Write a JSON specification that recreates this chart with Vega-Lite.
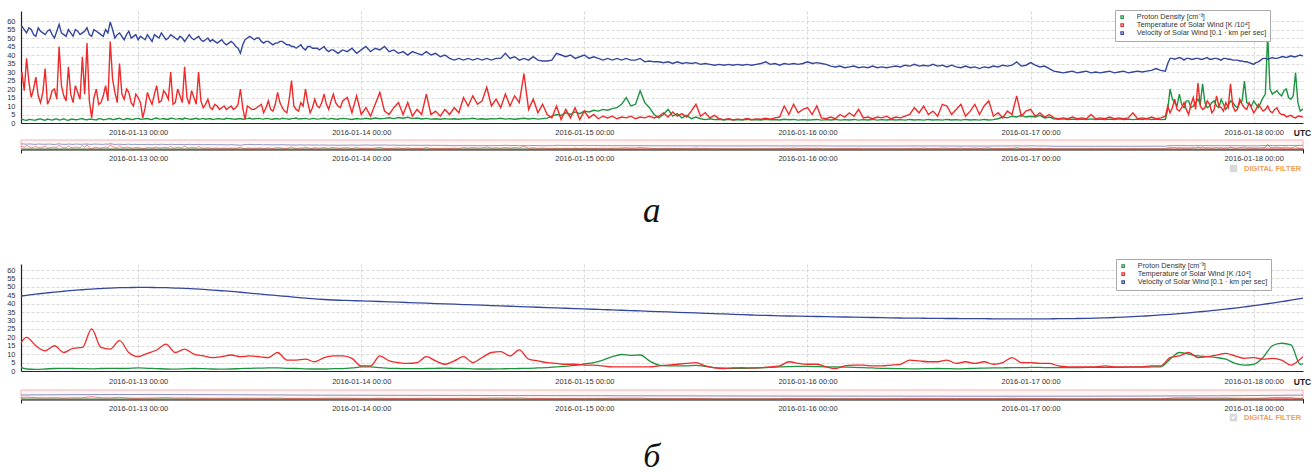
{
"$schema":"https://vega.github.io/schema/vega-lite/v6.json",
"padding":{"left":6,"top":9,"right":0,"bottom":0},
"background":"white",
"config":{"font":"Liberation Sans","view":{"stroke":null},
"axis":{"ticks":false,"tickSize":0,"domainColor":"#222","domainWidth":1.2,"gridColor":"#cfcfcf","gridDash":[3,2],"gridWidth":0.8,"labelFont":"Liberation Sans","labelFontSize":7.5,"labelColor":"#333"}},
"datasets":{
"a":[
{"h":11.0,"n":2,"t":25,"v":56},{"h":11.5,"n":2.2,"t":30,"v":57},{"h":12.0,"n":1.5,"t":38,"v":53},{"h":12.5,"n":2,"t":15,"v":55},{"h":13.0,"n":1.8,"t":27,"v":51},{"h":13.5,"n":2.4,"t":12,"v":54},{"h":14.0,"n":1.6,"t":32,"v":52},{"h":14.5,"n":2,"t":14,"v":55},{"h":15.0,"n":2.2,"t":20,"v":50},{"h":15.5,"n":1.8,"t":45,"v":58},{"h":16.0,"n":2.5,"t":16,"v":52},{"h":16.5,"n":1.6,"t":33,"v":55},{"h":17.0,"n":2.3,"t":12,"v":51},{"h":17.5,"n":2,"t":18,"v":54},{"h":18.0,"n":2.6,"t":39,"v":53},{"h":18.5,"n":1.9,"t":47,"v":56},{"h":19.0,"n":2.2,"t":3,"v":51},{"h":19.5,"n":1.8,"t":20,"v":54},{"h":20.0,"n":2.4,"t":12,"v":52},{"h":20.5,"n":2.1,"t":22,"v":55},{"h":21.0,"n":2.6,"t":48,"v":59.5},{"h":21.5,"n":2.2,"t":18,"v":50},{"h":22.0,"n":2.8,"t":35,"v":53},{"h":22.5,"n":2,"t":14,"v":49},{"h":23.0,"n":2.5,"t":18,"v":54},{"h":23.5,"n":2.2,"t":10,"v":51},{"h":24.0,"n":2.7,"t":15,"v":49},
{"h":24.5,"n":2.3,"t":3,"v":50},{"h":25.0,"n":2.6,"t":18,"v":52},{"h":25.5,"n":2.1,"t":11,"v":48},{"h":26.0,"n":2.9,"t":22,"v":51},{"h":26.5,"n":2.4,"t":13,"v":53},{"h":27.0,"n":2.2,"t":17,"v":49},{"h":27.5,"n":2.8,"t":30,"v":52},{"h":28.0,"n":2.3,"t":12,"v":50},{"h":28.5,"n":2.6,"t":16,"v":51},{"h":29.0,"n":2.9,"t":33,"v":48},{"h":29.5,"n":2.3,"t":11,"v":52},{"h":30.0,"n":2.5,"t":15,"v":49},{"h":30.5,"n":2.2,"t":30,"v":51},{"h":31.0,"n":2.7,"t":9,"v":48},{"h":31.5,"n":2.4,"t":14,"v":50},{"h":32.0,"n":2.1,"t":8,"v":49},{"h":32.5,"n":2.6,"t":10,"v":47},{"h":33.0,"n":2.3,"t":9,"v":49},{"h":33.5,"n":2.8,"t":8,"v":46},{"h":34.0,"n":2.5,"t":10,"v":48},{"h":34.5,"n":2.2,"t":9,"v":45},{"h":35.0,"n":2.6,"t":20,"v":41},{"h":35.5,"n":2.4,"t":2,"v":49},{"h":36.0,"n":2.9,"t":9,"v":51},{"h":36.5,"n":2.5,"t":8,"v":49},{"h":37.0,"n":2.7,"t":10,"v":50},{"h":37.5,"n":2.3,"t":6,"v":47},{"h":38.0,"n":2.6,"t":13,"v":48},{"h":38.5,"n":2.2,"t":7,"v":46},{"h":39.0,"n":2.5,"t":18,"v":47},{"h":39.5,"n":2.8,"t":9,"v":48},{"h":40.0,"n":2.4,"t":6,"v":46},{"h":40.5,"n":2.6,"t":25,"v":45},{"h":41.0,"n":2.9,"t":8,"v":44},{"h":41.5,"n":2.5,"t":12,"v":46},{"h":42.0,"n":2.7,"t":20,"v":43},{"h":42.5,"n":2.3,"t":6,"v":45},{"h":43.0,"n":2.6,"t":14,"v":44},{"h":43.5,"n":2.4,"t":9,"v":43},{"h":44.0,"n":2.8,"t":17,"v":45},{"h":44.5,"n":2.3,"t":8,"v":42},
{"h":45.0,"n":2.5,"t":17,"v":43},{"h":45.5,"n":2.2,"t":10,"v":41},{"h":46.0,"n":2.7,"t":13,"v":43},{"h":46.5,"n":2.4,"t":15,"v":42},{"h":47.0,"n":2.1,"t":6,"v":44},{"h":47.5,"n":2.6,"t":16,"v":41},{"h":48.0,"n":2.3,"t":5,"v":43},{"h":48.5,"n":2.8,"t":9,"v":45},{"h":49.0,"n":2.4,"t":4,"v":42},{"h":49.5,"n":2.9,"t":11,"v":44},{"h":50.0,"n":2.5,"t":18,"v":43},{"h":50.5,"n":2.7,"t":7,"v":45},{"h":51.0,"n":3.1,"t":5,"v":42},{"h":51.5,"n":2.6,"t":9,"v":43},{"h":52.0,"n":3.2,"t":12,"v":41},{"h":52.5,"n":2.8,"t":5,"v":42},{"h":53.0,"n":3.4,"t":12,"v":40},{"h":53.5,"n":2.6,"t":4,"v":42},{"h":54.0,"n":2.9,"t":8,"v":41},{"h":54.5,"n":2.4,"t":5,"v":40},{"h":55.0,"n":2.7,"t":17,"v":42},{"h":55.5,"n":2.3,"t":5,"v":40},{"h":56.0,"n":2.5,"t":7,"v":41},{"h":56.5,"n":2.2,"t":4,"v":39},{"h":57.0,"n":2.6,"t":8,"v":40},{"h":57.5,"n":2.3,"t":5,"v":38},{"h":58.0,"n":2.5,"t":9,"v":37},{"h":58.5,"n":2.2,"t":6,"v":38},{"h":59.0,"n":2.6,"t":15,"v":37},{"h":59.5,"n":2.4,"t":10,"v":38},{"h":60.0,"n":2.8,"t":16,"v":37},{"h":60.5,"n":2.3,"t":11,"v":38},{"h":61.0,"n":2.5,"t":13,"v":37},{"h":61.5,"n":2.2,"t":21,"v":38},{"h":62.0,"n":2.6,"t":10,"v":37},{"h":62.5,"n":2.4,"t":14,"v":38},{"h":63.0,"n":2.8,"t":9,"v":38},{"h":63.5,"n":2.3,"t":17,"v":41},{"h":64.0,"n":2.6,"t":10,"v":38},{"h":64.5,"n":2.2,"t":16,"v":39},{"h":65.0,"n":2.5,"t":12,"v":37},{"h":65.5,"n":2.8,"t":29,"v":38},{"h":66.0,"n":2.4,"t":8,"v":37},{"h":66.5,"n":2.7,"t":14,"v":39},{"h":67.0,"n":2.3,"t":6,"v":37},{"h":67.5,"n":2.6,"t":11,"v":36.5},{"h":68.0,"n":2.9,"t":5,"v":36.5},
{"h":68.5,"n":4,"t":3,"v":37},{"h":69.0,"n":5,"t":10,"v":41},{"h":69.5,"n":4.5,"t":2,"v":40},{"h":70.0,"n":6,"t":8,"v":39},{"h":70.5,"n":5,"t":3,"v":40},{"h":71.0,"n":6.5,"t":9,"v":38},{"h":71.5,"n":5.5,"t":2,"v":39},{"h":72.0,"n":7,"t":7,"v":40},{"h":72.5,"n":6.5,"t":3,"v":38},{"h":73.0,"n":7.5,"t":5,"v":39},{"h":73.5,"n":7,"t":2.5,"v":38},{"h":74.0,"n":8,"t":4,"v":37},{"h":74.5,"n":7.5,"t":3,"v":38},{"h":75.0,"n":8.5,"t":4,"v":37},{"h":75.5,"n":9,"t":2.5,"v":38},{"h":76.0,"n":11,"t":3.5,"v":37},{"h":76.5,"n":15,"t":3,"v":38},{"h":77.0,"n":10,"t":4,"v":37},{"h":77.5,"n":11,"t":2.5,"v":37},{"h":78.0,"n":19,"t":3.5,"v":38},{"h":78.5,"n":12,"t":3,"v":36},{"h":79.0,"n":9,"t":4,"v":36.5},{"h":79.5,"n":5,"t":3,"v":36},{"h":80.0,"n":3,"t":4,"v":36},
{"h":80.5,"n":5,"t":6,"v":35.5},{"h":81.0,"n":8,"t":3.5,"v":36},{"h":81.5,"n":4,"t":6.5,"v":35},{"h":82.0,"n":5.5,"t":4,"v":36},{"h":82.5,"n":3,"t":5.5,"v":35},{"h":83.0,"n":4.5,"t":3.5,"v":35.5},{"h":83.5,"n":2.5,"t":7,"v":35},{"h":84.0,"n":3.5,"t":11,"v":35.5},{"h":84.5,"n":2.5,"t":4,"v":34.5},{"h":85.0,"n":2,"t":6,"v":35},{"h":85.5,"n":2.5,"t":3,"v":34.5},{"h":86.0,"n":2,"t":4.5,"v":34},{"h":86.5,"n":2.2,"t":2.5,"v":34.5},{"h":87.0,"n":1.8,"t":2,"v":34},{"h":87.5,"n":2.2,"t":2.5,"v":34.5},{"h":88.0,"n":1.9,"t":1.8,"v":34},{"h":88.5,"n":2.1,"t":2.3,"v":34.5},{"h":89.0,"n":1.8,"t":2,"v":34},{"h":89.5,"n":2.2,"t":2.6,"v":34.5},{"h":90.0,"n":1.9,"t":1.9,"v":34},{"h":90.5,"n":2.1,"t":2.4,"v":34.5},{"h":91.0,"n":1.8,"t":2.2,"v":35},{"h":91.5,"n":2.2,"t":2.8,"v":36},{"h":92.0,"n":1.9,"t":2.3,"v":34.5},{"h":92.5,"n":2.1,"t":3,"v":35},{"h":93.0,"n":1.8,"t":3.5,"v":34},{"h":93.5,"n":2.2,"t":10,"v":35},{"h":94.0,"n":1.9,"t":5,"v":34.5},{"h":94.5,"n":2.1,"t":11,"v":35},{"h":95.0,"n":1.7,"t":6,"v":34.5},{"h":95.5,"n":2,"t":8,"v":35},{"h":96.0,"n":1.8,"t":9,"v":36},
{"h":96.5,"n":1.9,"t":5,"v":35},{"h":97.0,"n":2.1,"t":10,"v":35.5},{"h":97.5,"n":1.7,"t":3,"v":35},{"h":98.0,"n":2,"t":2.5,"v":34.5},{"h":98.5,"n":1.8,"t":3.5,"v":33.5},{"h":99.0,"n":2.1,"t":2.5,"v":33},{"h":99.5,"n":1.7,"t":5,"v":33.5},{"h":100.0,"n":2,"t":3.5,"v":32.5},{"h":100.5,"n":1.8,"t":6,"v":33},{"h":101.0,"n":2.1,"t":4,"v":33.5},{"h":101.5,"n":1.7,"t":8,"v":32.5},{"h":102.0,"n":2,"t":3,"v":33},{"h":102.5,"n":1.8,"t":3.5,"v":32.5},{"h":103.0,"n":2.1,"t":2.5,"v":33.5},{"h":103.5,"n":1.7,"t":3.5,"v":32.5},{"h":104.0,"n":2,"t":3,"v":33},{"h":104.5,"n":1.8,"t":4,"v":32.5},{"h":105.0,"n":2.1,"t":2.5,"v":33},{"h":105.5,"n":1.8,"t":3.5,"v":33.5},{"h":106.0,"n":2,"t":3,"v":33},{"h":106.5,"n":1.7,"t":4,"v":34},{"h":107.0,"n":2.1,"t":5,"v":33.5},{"h":107.5,"n":1.8,"t":9,"v":34.5},{"h":108.0,"n":2,"t":6,"v":33.5},{"h":108.5,"n":1.7,"t":10,"v":34},{"h":109.0,"n":2.1,"t":5,"v":33.5},{"h":109.5,"n":1.8,"t":7,"v":34.5},{"h":110.0,"n":2,"t":4,"v":33.5},{"h":110.5,"n":1.7,"t":11,"v":34},{"h":111.0,"n":2.1,"t":10,"v":33},{"h":111.5,"n":1.8,"t":5,"v":34},{"h":112.0,"n":2,"t":8,"v":33},{"h":112.5,"n":1.7,"t":11,"v":32.5},{"h":113.0,"n":2.1,"t":4,"v":33.5},{"h":113.5,"n":1.8,"t":7,"v":32.5},{"h":114.0,"n":2,"t":11,"v":33},{"h":114.5,"n":1.7,"t":5,"v":32},{"h":115.0,"n":2.1,"t":10,"v":33},{"h":115.5,"n":1.8,"t":13,"v":32.5},{"h":116.0,"n":2,"t":4,"v":33.5},{"h":116.5,"n":2.5,"t":6,"v":33},{"h":117.0,"n":3.5,"t":3,"v":34},{"h":117.5,"n":3,"t":7,"v":33.5},{"h":118.0,"n":4,"t":5,"v":34},{"h":118.5,"n":3.5,"t":16,"v":36},{"h":119.0,"n":4.5,"t":4,"v":33.5},{"h":119.5,"n":3.5,"t":7,"v":34},{"h":120.0,"n":4,"t":8,"v":35.5},
{"h":120.5,"n":3.5,"t":4,"v":34},{"h":121.0,"n":4.5,"t":6,"v":33},{"h":121.5,"n":3,"t":3.5,"v":33.5},{"h":122.0,"n":3.5,"t":5,"v":32},{"h":122.5,"n":2.5,"t":3,"v":30.5},{"h":123.0,"n":2.2,"t":2.5,"v":30},{"h":123.5,"n":2.4,"t":3,"v":29.5},{"h":124.0,"n":2.1,"t":2.5,"v":30},{"h":124.5,"n":2.3,"t":3.5,"v":30.5},{"h":125.0,"n":2,"t":2.5,"v":29.5},{"h":125.5,"n":2.3,"t":3,"v":30},{"h":126.0,"n":2.1,"t":2.5,"v":30.5},{"h":126.5,"n":2.4,"t":5,"v":29.5},{"h":127.0,"n":2.1,"t":2.5,"v":30},{"h":127.5,"n":2.3,"t":3,"v":29.5},{"h":128.0,"n":2,"t":2.5,"v":30},{"h":128.5,"n":2.3,"t":3.5,"v":30.5},{"h":129.0,"n":2.1,"t":2.5,"v":29.5},{"h":129.5,"n":2.4,"t":3,"v":30},{"h":130.0,"n":2.1,"t":2.5,"v":30.5},{"h":130.5,"n":2.3,"t":3,"v":29.5},{"h":131.0,"n":2,"t":6,"v":30},{"h":131.5,"n":2.3,"t":2.5,"v":30.5},{"h":132.0,"n":2.1,"t":3,"v":30},{"h":132.5,"n":2.4,"t":2.5,"v":30.5},{"h":133.0,"n":2.1,"t":3.5,"v":31},{"h":133.5,"n":2.3,"t":2.5,"v":32},{"h":134.0,"n":2,"t":3,"v":31},{"h":134.5,"n":2.2,"t":4,"v":30.5},
{"h":135.0,"n":20,"t":6,"v":38},{"h":135.5,"n":12,"t":14,"v":37.5},{"h":136.0,"n":17,"t":7,"v":38.5},{"h":136.5,"n":9,"t":12,"v":37},{"h":137.0,"n":13,"t":5,"v":38},{"h":137.5,"n":10,"t":15,"v":37.5},{"h":138.0,"n":14,"t":23.5,"v":38},{"h":138.5,"n":23,"t":8,"v":37.5},{"h":139.0,"n":9,"t":13,"v":38.5},{"h":139.5,"n":12,"t":6,"v":37.5},{"h":140.0,"n":10,"t":16,"v":38},{"h":140.5,"n":14,"t":9,"v":37},{"h":141.0,"n":8,"t":12,"v":38},{"h":141.5,"n":13,"t":23,"v":37.5},{"h":142.0,"n":10,"t":7,"v":37},{"h":142.5,"n":12,"t":14,"v":36.5},{"h":143.0,"n":24.7,"t":9,"v":36},{"h":143.5,"n":11,"t":12,"v":35.5},{"h":144.0,"n":13,"t":6,"v":34.5},{"h":144.5,"n":9,"t":11,"v":36},{"h":145.0,"n":15,"t":7,"v":38},{"h":145.5,"n":52,"t":10,"v":37.5},{"h":146.0,"n":17,"t":6,"v":38.5},{"h":146.5,"n":19,"t":9,"v":38},{"h":147.0,"n":16,"t":5,"v":39},{"h":147.5,"n":20,"t":3.5,"v":38.5},{"h":148.0,"n":14,"t":4.5,"v":39.5},{"h":148.5,"n":29.6,"t":3,"v":39},{"h":149.0,"n":7,"t":4,"v":40},{"h":149.5,"n":9,"t":3,"v":39.5},
{"h":11.25,"n":2.4,"t":22,"v":54},{"h":11.75,"n":1.8,"t":19,"v":55},{"h":12.25,"n":2.1,"t":24,"v":56},{"h":12.75,"n":1.7,"t":20,"v":52},{"h":13.25,"n":2.2,"t":16,"v":56},{"h":13.75,"n":1.9,"t":18,"v":53},{"h":14.25,"n":2.3,"t":11,"v":54},{"h":14.75,"n":1.7,"t":19,"v":52},{"h":15.25,"n":2.4,"t":14,"v":54},{"h":15.75,"n":2,"t":22,"v":53},{"h":16.25,"n":1.8,"t":13,"v":51},{"h":16.75,"n":2.2,"t":17,"v":53},{"h":17.25,"n":1.9,"t":22,"v":55},{"h":17.75,"n":2.4,"t":14,"v":52},{"h":18.25,"n":2,"t":17,"v":54},{"h":18.75,"n":2.3,"t":13,"v":52},{"h":19.25,"n":2,"t":15,"v":55},{"h":19.75,"n":2.5,"t":11,"v":53},{"h":20.25,"n":1.9,"t":16,"v":51},{"h":20.75,"n":2.4,"t":13,"v":53},{"h":21.25,"n":2,"t":26,"v":55},{"h":21.75,"n":2.5,"t":12,"v":52},{"h":22.25,"n":2.1,"t":17,"v":51},{"h":22.75,"n":2.6,"t":20,"v":52},{"h":23.25,"n":2.1,"t":12,"v":50},{"h":23.75,"n":2.6,"t":17,"v":52},{"h":24.25,"n":2.2,"t":12,"v":51},{"h":24.75,"n":2.5,"t":9,"v":49},{"h":25.25,"n":2.2,"t":14,"v":50},{"h":25.75,"n":2.7,"t":17,"v":52},{"h":26.25,"n":2.3,"t":12,"v":50},{"h":26.75,"n":2.6,"t":19,"v":51},{"h":27.25,"n":2.2,"t":14,"v":50},{"h":27.75,"n":2.7,"t":11,"v":51},{"h":28.25,"n":2.4,"t":20,"v":49},{"h":28.75,"n":2.1,"t":12,"v":50},{"h":29.25,"n":2.6,"t":15,"v":50},{"h":29.75,"n":2.2,"t":19,"v":50},{"h":30.25,"n":2.8,"t":11,"v":50},{"h":30.75,"n":2.4,"t":13,"v":49},{"h":31.25,"n":2.2,"t":11,"v":49},{"h":31.75,"n":2.6,"t":9,"v":48},{"h":32.25,"n":2.3,"t":11,"v":48},{"h":32.75,"n":2.5,"t":8,"v":48},{"h":33.25,"n":2.2,"t":10,"v":47},{"h":33.75,"n":2.6,"t":9,"v":47},{"h":34.25,"n":2.3,"t":8,"v":47},{"h":34.75,"n":2.5,"t":11,"v":44},{"h":35.25,"n":2.2,"t":9,"v":46},{"h":35.75,"n":2.6,"t":10,"v":50},{"h":36.25,"n":2.3,"t":8,"v":50},{"h":36.75,"n":2.6,"t":9,"v":50},{"h":37.25,"n":2.4,"t":11,"v":48},{"h":37.75,"n":2.7,"t":9,"v":48},{"h":38.25,"n":2.3,"t":8,"v":47},{"h":38.75,"n":2.6,"t":11,"v":47},{"h":39.25,"n":2.3,"t":12,"v":48},{"h":39.75,"n":2.6,"t":7,"v":47},{"h":40.25,"n":2.2,"t":14,"v":46},{"h":40.75,"n":2.7,"t":10,"v":45},{"h":41.25,"n":2.3,"t":7,"v":45},{"h":41.75,"n":2.6,"t":10,"v":44},{"h":42.25,"n":2.4,"t":12,"v":45},{"h":42.75,"n":2.7,"t":9,"v":44},{"h":43.25,"n":2.3,"t":10,"v":44},{"h":43.75,"n":2.6,"t":12,"v":44},{"h":44.25,"n":2.4,"t":11,"v":43},{"h":44.75,"n":2.7,"t":13,"v":43},{"h":45.25,"n":2.3,"t":12,"v":42},{"h":45.75,"n":2.6,"t":9,"v":42},
{"h":134.75,"n":8,"t":10,"v":35},{"h":135.25,"n":14,"t":9,"v":38},{"h":135.75,"n":10,"t":8,"v":38},{"h":136.25,"n":11,"t":9,"v":38},{"h":136.75,"n":13,"t":8,"v":38},{"h":137.25,"n":9,"t":11,"v":37.5},{"h":137.75,"n":12,"t":8,"v":38},{"h":138.25,"n":11,"t":10,"v":37.5},{"h":138.75,"n":12,"t":9,"v":38},{"h":139.25,"n":10,"t":11,"v":37.5},{"h":139.75,"n":13,"t":8,"v":38},{"h":140.25,"n":9,"t":10,"v":37.5},{"h":140.75,"n":11,"t":7,"v":38},{"h":141.25,"n":10,"t":9,"v":37.5},{"h":141.75,"n":12,"t":10,"v":37},{"h":142.25,"n":9,"t":8,"v":37},{"h":142.75,"n":13,"t":11,"v":36.5},{"h":143.25,"n":12,"t":8,"v":36},{"h":143.75,"n":10,"t":9,"v":35},{"h":144.25,"n":11,"t":8,"v":35.5},{"h":144.75,"n":12,"t":9,"v":37},{"h":145.25,"n":17,"t":8,"v":38},{"h":145.75,"n":20,"t":7,"v":38},{"h":146.25,"n":18,"t":8,"v":38},{"h":146.75,"n":17,"t":6,"v":38.5},{"h":147.25,"n":19,"t":5,"v":39},{"h":147.75,"n":15,"t":4,"v":39},{"h":148.25,"n":16,"t":3.5,"v":39},{"h":148.75,"n":12,"t":4,"v":39.5},{"h":149.25,"n":8,"t":3.5,"v":39.5}
],
"b":[
{"h":11,"n":3,"t":13,"v":44.3},{"h":12,"n":1.2,"t":20,"v":45},{"h":13,"n":1,"t":15,"v":45.7},{"h":14,"n":1.2,"t":12,"v":46.3},{"h":15,"n":1.5,"t":15,"v":46.9},{"h":16,"n":1.6,"t":11,"v":47.4},{"h":17,"n":1.5,"t":13.5,"v":47.9},{"h":18,"n":1.4,"t":14,"v":48.3},{"h":19,"n":1.3,"t":25,"v":48.7},{"h":20,"n":1.5,"t":14,"v":49},{"h":21,"n":1.6,"t":13,"v":49.3},{"h":22,"n":1.5,"t":18,"v":49.5},{"h":23,"n":1.6,"t":11,"v":49.6},{"h":24,"n":1.8,"t":8.5,"v":49.7},{"h":25,"n":1.6,"t":10.5,"v":49.7},{"h":26,"n":1.4,"t":12.5,"v":49.6},{"h":27,"n":1.2,"t":16,"v":49.5},{"h":28,"n":1.1,"t":11,"v":49.3},{"h":29,"n":1.3,"t":13,"v":49.1},{"h":30,"n":1.5,"t":10,"v":48.8},{"h":31,"n":1.4,"t":9,"v":48.5},{"h":32,"n":1.2,"t":8,"v":48.1},{"h":33,"n":1.1,"t":8.5,"v":47.7},{"h":34,"n":1.2,"t":9.5,"v":47.3},{"h":35,"n":1.4,"t":8.5,"v":46.8},{"h":36,"n":1.6,"t":9,"v":46.3},{"h":37,"n":1.7,"t":8.5,"v":45.8},{"h":38,"n":1.8,"t":8,"v":45.3},{"h":39,"n":1.8,"t":11,"v":44.8},{"h":40,"n":1.6,"t":6.5,"v":44.3},{"h":41,"n":1.5,"t":6.5,"v":43.8},{"h":42,"n":1.3,"t":7,"v":43.3},{"h":43,"n":1.2,"t":5.5,"v":42.9},{"h":44,"n":1.2,"t":8,"v":42.5},{"h":45,"n":1.4,"t":9,"v":42.2},{"h":46,"n":1.4,"t":9,"v":42},{"h":47,"n":1.8,"t":7.5,"v":41.8},{"h":48,"n":2.4,"t":3,"v":41.7},{"h":49,"n":2.4,"t":3,"v":41.5},{"h":50,"n":2,"t":9,"v":41.3},{"h":51,"n":1.6,"t":6,"v":41.1},{"h":52,"n":1.5,"t":5,"v":40.9},{"h":53,"n":1.4,"t":4.5,"v":40.7},{"h":54,"n":1.4,"t":5,"v":40.5},{"h":55,"n":1.5,"t":8.5,"v":40.3},{"h":56,"n":1.6,"t":6,"v":40.1},{"h":57,"n":1.7,"t":4,"v":39.9},{"h":58,"n":1.6,"t":6,"v":39.7},{"h":59,"n":1.5,"t":8.5,"v":39.5},{"h":60,"n":1.3,"t":5,"v":39.3},{"h":61,"n":1.2,"t":8,"v":39.1},{"h":62,"n":1.2,"t":11,"v":38.9},{"h":63,"n":1.3,"t":11.5,"v":38.7},{"h":64,"n":1.4,"t":9,"v":38.5},{"h":65,"n":1.5,"t":12.5,"v":38.3},{"h":66,"n":1.6,"t":7,"v":38.1},{"h":67,"n":1.8,"t":6,"v":37.9},{"h":68,"n":2,"t":5,"v":37.7},{"h":69,"n":2.4,"t":4.5,"v":37.5},{"h":70,"n":2.8,"t":4,"v":37.3},{"h":71,"n":3.3,"t":4,"v":37.1},{"h":72,"n":4.2,"t":3.5,"v":36.9},{"h":73,"n":5,"t":3.5,"v":36.7},{"h":74,"n":6.5,"t":3,"v":36.5},{"h":75,"n":8.5,"t":2.5,"v":36.3},{"h":76,"n":9.8,"t":2.5,"v":36.1},{"h":77,"n":9.3,"t":2.5,"v":35.9},{"h":78,"n":9.5,"t":2.5,"v":35.7},{"h":79,"n":6,"t":2.5,"v":35.5},{"h":80,"n":3.5,"t":3,"v":35.3},{"h":81,"n":3.1,"t":3.5,"v":35.1},{"h":82,"n":3,"t":4,"v":34.9},{"h":83,"n":3.1,"t":4.5,"v":34.7},{"h":84,"n":3.3,"t":5,"v":34.5},{"h":85,"n":2.8,"t":3,"v":34.3},{"h":86,"n":2,"t":1.8,"v":34.1},{"h":87,"n":1.7,"t":1.5,"v":33.9},{"h":88,"n":1.6,"t":1.8,"v":33.7},{"h":89,"n":1.6,"t":2,"v":33.5},{"h":90,"n":1.7,"t":1.8,"v":33.3},{"h":91,"n":1.9,"t":2,"v":33.1},{"h":92,"n":2.2,"t":2.5,"v":33},{"h":93,"n":2.4,"t":3,"v":32.8},{"h":94,"n":2.6,"t":5.5,"v":32.7},{"h":95,"n":2.7,"t":4.5,"v":32.6},{"h":96,"n":2.7,"t":4,"v":32.5},{"h":97,"n":2.6,"t":4,"v":32.4},{"h":98,"n":2.5,"t":2.5,"v":32.3},{"h":99,"n":2.4,"t":1.5,"v":32.2},{"h":100,"n":2.3,"t":3,"v":32.1},{"h":101,"n":2.2,"t":3.5,"v":32},{"h":102,"n":2,"t":3.5,"v":31.9},{"h":103,"n":1.8,"t":3,"v":31.8},{"h":104,"n":1.6,"t":3,"v":31.7},{"h":105,"n":1.5,"t":3.5,"v":31.6},{"h":106,"n":1.4,"t":4,"v":31.5},{"h":107,"n":1.3,"t":6.5,"v":31.4},{"h":108,"n":1.3,"t":6,"v":31.4},{"h":109,"n":1.4,"t":5.5,"v":31.3},{"h":110,"n":1.5,"t":5.5,"v":31.3},{"h":111,"n":1.4,"t":6.5,"v":31.2},{"h":112,"n":1.3,"t":4.5,"v":31.2},{"h":113,"n":1.4,"t":5.5,"v":31.1},{"h":114,"n":1.6,"t":4.5,"v":31.1},{"h":115,"n":1.7,"t":5.5,"v":31.1},{"h":116,"n":1.8,"t":4,"v":31},{"h":117,"n":1.9,"t":5,"v":31},{"h":118,"n":2,"t":8,"v":31},{"h":119,"n":2,"t":5,"v":31},{"h":120,"n":2.1,"t":5,"v":31},{"h":121,"n":2.1,"t":4.5,"v":31},{"h":122,"n":2,"t":4.5,"v":31},{"h":123,"n":2,"t":3,"v":31.1},{"h":124,"n":2,"t":2.5,"v":31.1},{"h":125,"n":2,"t":2.5,"v":31.2},{"h":126,"n":2.1,"t":2.5,"v":31.3},{"h":127,"n":2.1,"t":2.5,"v":31.4},{"h":128,"n":2.2,"t":3,"v":31.6},{"h":129,"n":2.2,"t":2.5,"v":31.8},{"h":130,"n":2.2,"t":2.5,"v":32},{"h":131,"n":2.3,"t":2.5,"v":32.3},{"h":132,"n":2.3,"t":2.5,"v":32.6},{"h":133,"n":2.4,"t":3,"v":32.9},{"h":134,"n":2.5,"t":3,"v":33.3},{"h":135,"n":7,"t":8,"v":33.7},{"h":136,"n":11,"t":9,"v":34.1},{"h":137,"n":10,"t":11,"v":34.6},{"h":138,"n":9,"t":8,"v":35.1},{"h":139,"n":8.5,"t":8.5,"v":35.6},{"h":140,"n":8,"t":9.5,"v":36.2},{"h":141,"n":7,"t":10.5,"v":36.8},{"h":142,"n":4.5,"t":9,"v":37.4},{"h":143,"n":3.5,"t":7.5,"v":38.1},{"h":144,"n":4,"t":8,"v":38.8},{"h":145,"n":8,"t":7,"v":39.6},{"h":146,"n":15,"t":7.5,"v":40.4},{"h":147,"n":16.5,"t":6.5,"v":41.2},{"h":148,"n":15.5,"t":3.5,"v":42.1},{"h":149,"n":4,"t":7,"v":43},{"h":150,"n":6,"t":12,"v":44}
]},
"spacing":29,
"resolve":{"scale":{"color":"independent","shape":"independent"},"legend":{"color":"independent","shape":"independent"}},
"vconcat":[
{"spacing":2,
 "resolve":{"scale":{"color":"independent","shape":"independent"},"legend":{"color":"independent","shape":"independent"}},
 "title":{"text":"а","orient":"bottom","anchor":"middle","font":"Liberation Serif","fontStyle":"italic","fontWeight":"normal","fontSize":35,"color":"#111","offset":19,"dx":-7},
 "vconcat":[
  {"width":1282,"height":112,"data":{"name":"a"},
   "transform":[{"fold":["n","t","v"],"as":["s","val"]}],
   "mark":{"type":"line","strokeWidth":1.4,"clip":true},
   "encoding":{
    "x":{"field":"h","type":"quantitative","scale":{"domain":[11.4,149.3],"nice":false,"zero":false},
     "axis":{"values":[24,48,72,96,120,144],"labelExpr":"'2016-01-' + (12 + datum.value/24) + ' 00:00'","grid":true,"labelPadding":5,"title":"UTC","titleX":1281,"titleY":9,"titleBaseline":"middle","titleAlign":"center","titleAnchor":null,"titleFontWeight":"bold","titleFontSize":8.5,"titleColor":"#222"}},
    "y":{"field":"val","type":"quantitative","scale":{"domain":[0,65.9],"nice":false},
     "axis":{"values":[0,5,10,15,20,25,30,35,40,45,50,55,60],"title":null,"grid":true,"labelPadding":6}},
    "color":{"field":"s","type":"nominal","scale":{"domain":["n","t","v"],"range":["#1f9440","#ee2b2b","#34479e"]},
     "legend":{"orient":"none","legendX":1094,"legendY":-1,"title":null,"symbolType":"square","symbolSize":6,"symbolStrokeWidth":1.2,"labelFontSize":7.3,"labelColor":"#333","labelOffset":11,"padding":3.5,"rowPadding":-1,"strokeColor":"#aaa","fillColor":"white",
      "labelExpr":"datum.label == 'n' ? 'Proton Density [cm⁻³]' : datum.label == 't' ? 'Temperature of Solar Wind [K /10⁴]' : 'Velocity of Solar Wind [0.1 · km per sec]'"}}
   }},
  {"width":1282,"height":9,
   "layer":[
    {"data":{"values":[{}]},
     "mark":{"type":"rect","fill":"#fef5f5","stroke":"#f4b0b0","strokeWidth":1},
     "encoding":{
      "x":{"datum":11.4,"type":"quantitative","scale":{"domain":[11.4,149.3],"nice":false,"zero":false},
       "axis":{"values":[11.4,24,48,72,96,120,144,149.3],"labelExpr":"datum.value % 24 == 0 ? '2016-01-' + (12 + datum.value/24) + ' 00:00' : ''","grid":true,"ticks":true,"tickSize":4,"tickWidth":1,"tickColor":{"condition":{"test":"datum.value % 24 != 0","value":"#222"},"value":"transparent"},"gridColor":{"condition":{"test":"datum.value % 24 == 0","value":"#d5d5d5"},"value":"transparent"},"labelPadding":1,"domainWidth":1.8,"domainColor":"#111","title":null}},
      "x2":{"datum":149.3},
      "y":{"datum":0,"type":"quantitative","scale":{"domain":[0,100],"nice":false},"axis":null},
      "y2":{"datum":100}
     }},
    {"data":{"name":"a"},
     "transform":[{"fold":["n","t","v"],"as":["s","val"]}],
     "mark":{"type":"line","strokeWidth":0.7,"opacity":0.75,"clip":true},
     "encoding":{
      "x":{"field":"h","type":"quantitative","axis":{"title":null}},
      "y":{"field":"val","type":"quantitative","axis":null},
      "color":{"field":"s","type":"nominal","scale":{"domain":["n","t","v"],"range":["#1f9440","#ee2b2b","#34479e"]},"legend":null}
     }},
    {"data":{"values":[{}]},
     "mark":{"type":"point","filled":true,"fill":"#d8d8d8","stroke":"#8f8f8f","strokeWidth":1,"opacity":1,"clip":true},
     "encoding":{
      "x":{"datum":20,"type":"quantitative"},
      "y":{"datum":-500,"type":"quantitative"},
      "shape":{"datum":"DIGITAL FILTER","type":"nominal","scale":{"range":["square"]},
       "legend":{"orient":"none","legendX":1208,"legendY":24,"title":null,"symbolSize":56,"padding":0,"labelOffset":6,"labelFontSize":7.5,"labelFontWeight":"bold","labelColor":"#f0a05a","symbolFillColor":"#d8d8d8","symbolStrokeColor":"#8f8f8f","symbolStrokeWidth":1}}
     }}
   ]}
 ]},
{"spacing":3,
 "resolve":{"scale":{"color":"independent","shape":"independent"},"legend":{"color":"independent","shape":"independent"}},
 "title":{"text":"б","orient":"bottom","anchor":"middle","font":"Liberation Serif","fontStyle":"italic","fontWeight":"normal","fontSize":34,"color":"#111","offset":16,"dx":-7},
 "vconcat":[
  {"width":1282,"height":107,"data":{"name":"b"},
   "transform":[{"fold":["n","t","v"],"as":["s","val"]}],
   "mark":{"type":"line","strokeWidth":1.3,"clip":true,"interpolate":"monotone"},
   "encoding":{
    "x":{"field":"h","type":"quantitative","scale":{"domain":[11.4,149.3],"nice":false,"zero":false},
     "axis":{"values":[24,48,72,96,120,144],"labelExpr":"'2016-01-' + (12 + datum.value/24) + ' 00:00'","grid":true,"labelPadding":6,"title":"UTC","titleX":1281,"titleY":10,"titleBaseline":"middle","titleAlign":"center","titleAnchor":null,"titleFontWeight":"bold","titleFontSize":8.5,"titleColor":"#222"}},
    "y":{"field":"val","type":"quantitative","scale":{"domain":[0,63.6],"nice":false},
     "axis":{"values":[0,5,10,15,20,25,30,35,40,45,50,55,60],"title":null,"grid":true,"labelPadding":6}},
    "color":{"field":"s","type":"nominal","scale":{"domain":["n","t","v"],"range":["#1f9440","#ee2b2b","#34479e"]},
     "legend":{"orient":"none","legendX":1095,"legendY":-5,"title":null,"symbolType":"square","symbolSize":6,"symbolStrokeWidth":1.2,"labelFontSize":7.3,"labelColor":"#333","labelOffset":11,"padding":3.5,"rowPadding":-1,"strokeColor":"#aaa","fillColor":"white",
      "labelExpr":"datum.label == 'n' ? 'Proton Density [cm⁻³]' : datum.label == 't' ? 'Temperature of Solar Wind [K /10⁴]' : 'Velocity of Solar Wind [0.1 · km per sec]'"}}
   }},
  {"width":1282,"height":9,
   "layer":[
    {"data":{"values":[{}]},
     "mark":{"type":"rect","fill":"#fef5f5","stroke":"#f4b0b0","strokeWidth":1},
     "encoding":{
      "x":{"datum":11.4,"type":"quantitative","scale":{"domain":[11.4,149.3],"nice":false,"zero":false},
       "axis":{"values":[11.4,24,48,72,96,120,144,149.3],"labelExpr":"datum.value % 24 == 0 ? '2016-01-' + (12 + datum.value/24) + ' 00:00' : ''","grid":true,"ticks":true,"tickSize":4,"tickWidth":1,"tickColor":{"condition":{"test":"datum.value % 24 != 0","value":"#222"},"value":"transparent"},"gridColor":{"condition":{"test":"datum.value % 24 == 0","value":"#d5d5d5"},"value":"transparent"},"labelPadding":1,"domainWidth":1.8,"domainColor":"#111","title":null}},
      "x2":{"datum":149.3},
      "y":{"datum":0,"type":"quantitative","scale":{"domain":[0,100],"nice":false},"axis":null},
      "y2":{"datum":100}
     }},
    {"data":{"name":"b"},
     "transform":[{"fold":["n","t","v"],"as":["s","val"]}],
     "mark":{"type":"line","strokeWidth":0.8,"opacity":0.75,"clip":true,"interpolate":"monotone"},
     "encoding":{
      "x":{"field":"h","type":"quantitative","axis":{"title":null}},
      "y":{"field":"val","type":"quantitative","axis":null},
      "color":{"field":"s","type":"nominal","scale":{"domain":["n","t","v"],"range":["#1f9440","#ee2b2b","#34479e"]},"legend":null}
     }},
    {"data":{"values":[{}]},
     "mark":{"type":"point","filled":true,"fill":"#d8d8d8","stroke":"#333","strokeWidth":1.2,"opacity":1,"clip":true},
     "encoding":{
      "x":{"datum":20,"type":"quantitative"},
      "y":{"datum":-500,"type":"quantitative"},
      "shape":{"datum":"DIGITAL FILTER","type":"nominal","scale":{"range":["M-1,-1H1V1H-1Z M-0.6,0.05L-0.15,0.55L0.7,-0.6"]},
       "legend":{"orient":"none","legendX":1208,"legendY":23,"title":null,"symbolSize":56,"padding":0,"labelOffset":6,"labelFontSize":7.5,"labelFontWeight":"bold","labelColor":"#f0a05a","symbolFillColor":"#d8d8d8","symbolStrokeColor":"#333","symbolStrokeWidth":1.2}}
     }}
   ]}
 ]}
]
}
